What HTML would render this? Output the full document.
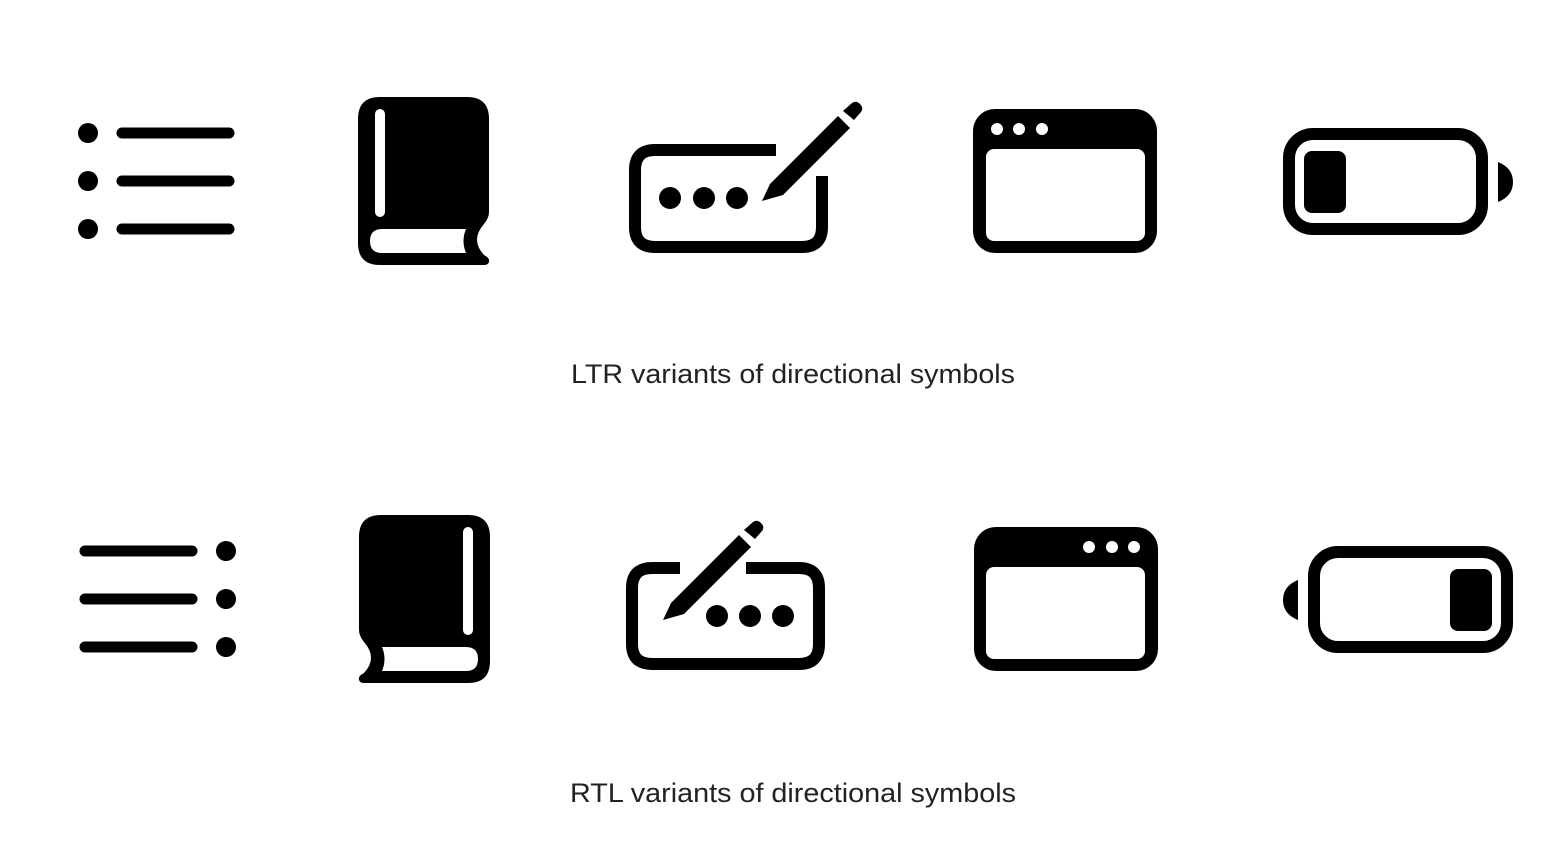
<!DOCTYPE html>
<html><head><style>
html,body{margin:0;padding:0;background:#fff;}
svg{display:block}
text{font-family:"Liberation Sans",sans-serif;font-size:27px;fill:#222;}
</style></head><body>
<svg width="1562" height="848" viewBox="0 0 1562 848" xmlns="http://www.w3.org/2000/svg">
<defs>
<g id="list">
<circle cx="88" cy="133" r="10"/><circle cx="88" cy="181" r="10"/><circle cx="88" cy="229" r="10"/>
<g stroke="#000" stroke-width="11" stroke-linecap="round"><line x1="122" y1="133" x2="229" y2="133"/><line x1="122" y1="181" x2="229" y2="181"/><line x1="122" y1="229" x2="229" y2="229"/></g>
</g>
<g id="book">
<path d="M380 97 H467 Q489 97 489 119 V212 Q489 218 484 224 Q470 240 484 255 Q490 258 489 262 Q488 265 484 265 H380 Q358 265 358 243 V119 Q358 97 380 97 Z"/>
<rect x="375" y="109" width="10" height="108" rx="5" fill="#fff"/>
<path d="M382 229 H466 Q461 241 466 253 H382 Q370 253 370 241 Q370 229 382 229 Z" fill="#fff"/>
</g>
<g id="pen">
<polygon points="762,201 770,184 838,116 850,128 783,195"/>
<path d="M843 111 L852 103 Q856 100 860 104 Q864 108 861 112 L854 120 Z"/>
</g>
<g id="window">
<rect x="973" y="109" width="184" height="144" rx="22"/>
<rect x="986" y="149" width="159" height="92" rx="8" fill="#fff"/>
<circle cx="997" cy="129" r="6" fill="#fff"/><circle cx="1019" cy="129" r="6" fill="#fff"/><circle cx="1042" cy="129" r="6" fill="#fff"/>
</g>
<g id="battery">
<rect x="1289" y="134" width="193" height="95" rx="24" fill="none" stroke="#000" stroke-width="12"/>
<rect x="1304" y="151" width="42" height="62" rx="8"/>
<path d="M1498 162 Q1513 168 1513 182 Q1513 196 1498 202 Z"/>
</g>
</defs>
<use href="#list"/><use href="#book"/><use href="#window"/><use href="#battery"/>
<!-- LTR pencil -->
<path d="M776 150 H655 Q635 150 635 170 V227 Q635 247 655 247 H802 Q822 247 822 227 V176" fill="none" stroke="#000" stroke-width="12"/>
<circle cx="670" cy="198" r="11"/><circle cx="704" cy="198" r="11"/><circle cx="737" cy="198" r="11"/>
<use href="#pen"/>
<!-- RTL pencil -->
<path d="M680 568 H652 Q632 568 632 588 V644 Q632 664 652 664 H799 Q819 664 819 644 V588 Q819 568 799 568 H746" fill="none" stroke="#000" stroke-width="12"/>
<circle cx="717" cy="616" r="11"/><circle cx="750" cy="616" r="11"/><circle cx="783" cy="616" r="11"/>
<use href="#pen" transform="translate(-99,419)"/>

<use href="#list" transform="translate(314,418) scale(-1,1)"/>
<use href="#book" transform="translate(848,418) scale(-1,1)"/>
<use href="#window" transform="translate(2131,418) scale(-1,1)"/>
<use href="#battery" transform="translate(2796,418) scale(-1,1)"/>
<text x="571" y="383" textLength="444" lengthAdjust="spacingAndGlyphs">LTR variants of directional symbols</text>
<text x="570" y="802" textLength="446" lengthAdjust="spacingAndGlyphs">RTL variants of directional symbols</text>
</svg>
</body></html>
